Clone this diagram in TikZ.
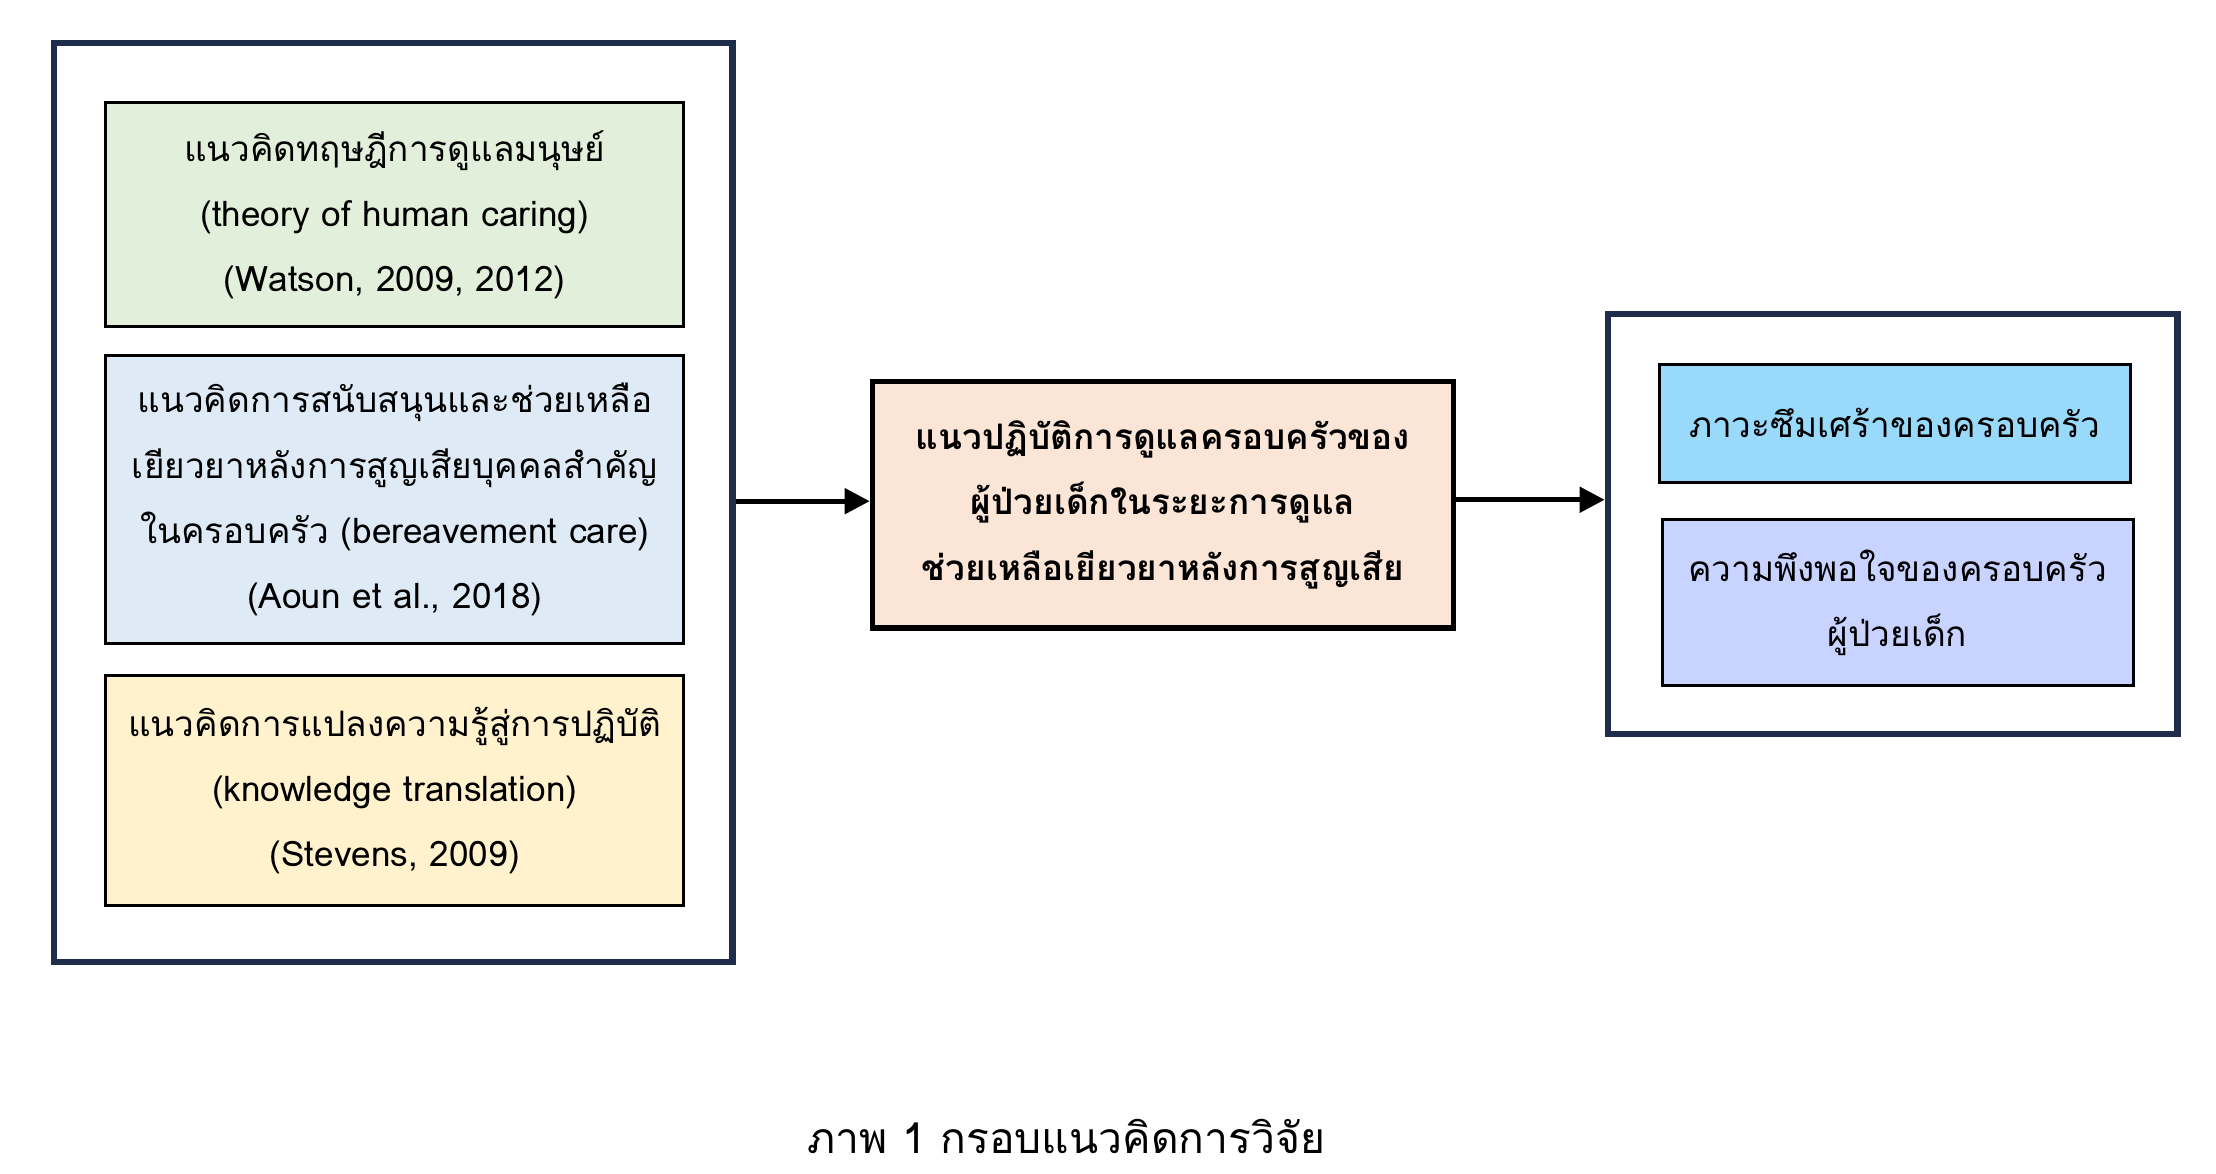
\documentclass[tikz,border=0pt]{standalone}
\usepackage{fontspec}
\setmainfont[Script=Thai]{Loma}
\usetikzlibrary{arrows.meta}
\definecolor{navy}{HTML}{1F2D4D}
\tikzset{
 box/.style={draw=black, line width=1.2pt, align=center, font=\fontsize{14}{26}\selectfont, inner sep=0pt},
 frame/.style={draw=navy, line width=2.5pt},
 arr/.style={line width=2pt, -{Triangle[length=10pt,width=10pt]}}
}
\begin{document}
\begin{tikzpicture}[x=0.02cm,y=-0.02cm]
\useasboundingbox (0,0) rectangle (1552,822);
\node[frame, minimum width=9.5cm, minimum height=12.88cm] (L) at (275.5,352) {};
\node[frame, minimum width=7.98cm, minimum height=5.88cm] (R) at (1325.5,367) {};
\node[box, fill={rgb,255:red,226;green,239;blue,218}, minimum width=8.1cm, minimum height=3.14cm] (g) at (276.5,150.5) {แนวคิดทฤษฎีการดูแลมนุษย์\\(theory of human caring)\\(Watson, 2009, 2012)};
\node[box, fill={rgb,255:red,222;green,235;blue,247}, minimum width=8.1cm, minimum height=4.04cm] (b) at (276.5,350) {แนวคิดการสนับสนุนและช่วยเหลือ\\เยียวยาหลังการสูญเสียบุคคลสำคัญ\\ในครอบครัว (bereavement care)\\(Aoun et al., 2018)};
\node[box, fill={rgb,255:red,255;green,242;blue,204}, minimum width=8.1cm, minimum height=3.22cm] (y) at (276.5,553.5) {แนวคิดการแปลงความรู้สู่การปฏิบัติ\\(knowledge translation)\\(Stevens, 2009)};
\node[box, line width=2.2pt, fill={rgb,255:red,251;green,229;blue,214}, minimum width=8.14cm, minimum height=3.46cm, font=\bfseries\fontsize{14}{26}\selectfont] (c) at (814.5,353.5) {แนวปฏิบัติการดูแลครอบครัวของ\\ผู้ป่วยเด็กในระยะการดูแล\\ช่วยเหลือเยียวยาหลังการสูญเสีย};
\node[box, fill={rgb,255:red,153;green,217;blue,250}, minimum width=6.6cm, minimum height=1.66cm] (s) at (1327,296.5) {ภาวะซึมเศร้าของครอบครัว};
\node[box, fill={rgb,255:red,201;green,211;blue,255}, minimum width=6.6cm, minimum height=2.32cm] (p) at (1329,422) {ความพึงพอใจของครอบครัว\\ผู้ป่วยเด็ก};
\draw[arr] (L.east |- 0,351) -- (c.west |- 0,351);
\draw[arr] (c.east |- 0,350) -- (R.west |- 0,350);
\node[font=\fontsize{17}{20}\selectfont] (cap) at (747,796) {ภาพ 1 กรอบแนวคิดการวิจัย};
\end{tikzpicture}
\end{document}
